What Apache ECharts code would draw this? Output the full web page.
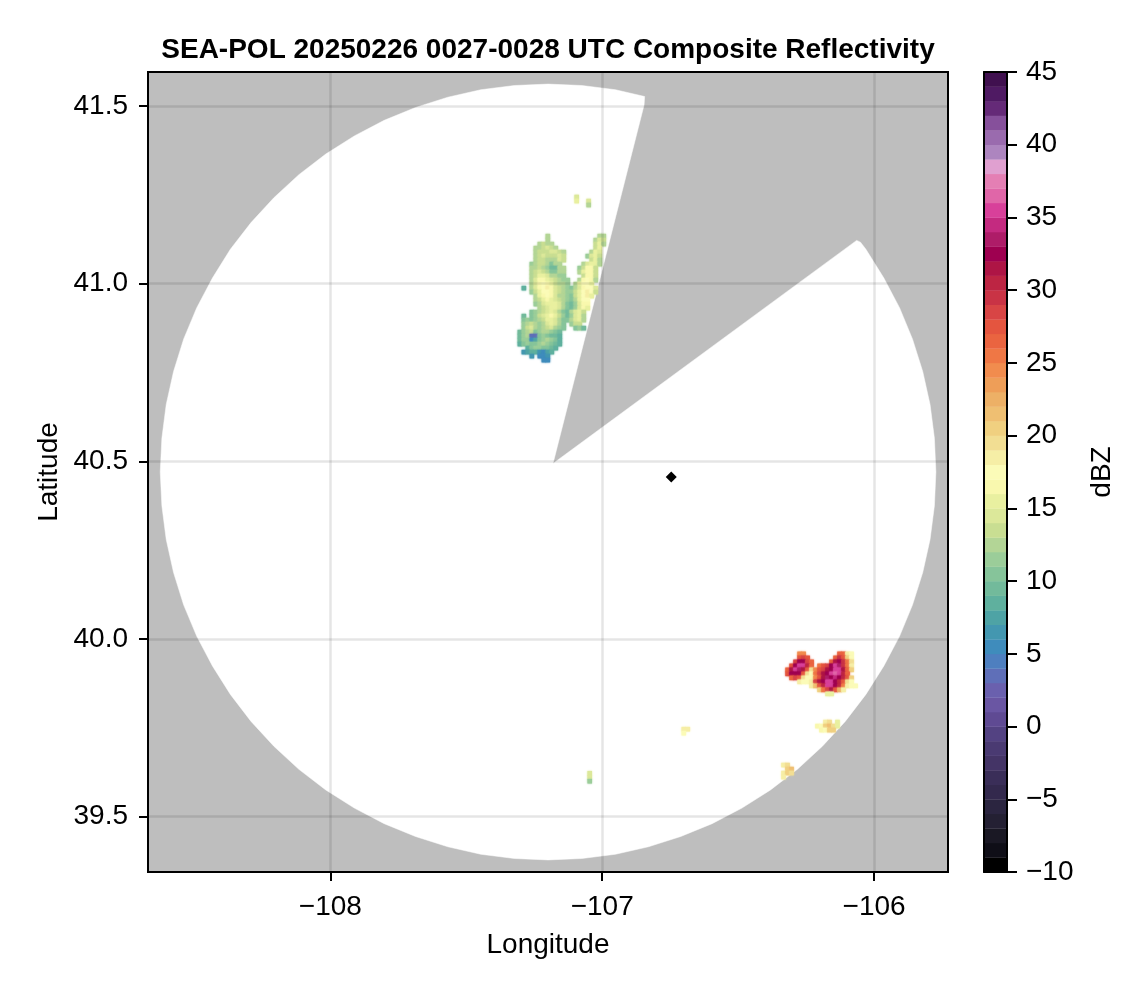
<!DOCTYPE html>
<html><head><meta charset="utf-8">
<style>html,body{margin:0;padding:0;background:#fff}#c{width:1146px;height:990px}</style>
<script src="https://cdn.jsdelivr.net/npm/echarts@6/dist/echarts.min.js"></script>
</head><body><div id="c"></div>
<script>
const titleText = 'SEA-POL 20250226 0027-0028 UTC Composite Reflectivity';
const lonTicks = [-108, -107, -106];
const latTicks = [39.5, 40, 40.5, 41, 41.5];
const lonRange = [-108.671, -105.728];
const latRange = [39.344, 41.596];
const dbzRange = [-10, 45];
// one colour per 1 dBZ bin, from -10 up to 45
const binColors = ['#000000','#0f0e17','#1a1824','#242033','#2b2540','#33294d','#3a2e58','#443466','#4a3a72','#534282',
 '#5f4a93','#6a56a3','#6a60ae','#5f6fb8','#4e7fbf','#3f8cbc','#4397b0','#4ea3a5','#5fb09e','#72ba9b',
 '#86c49a','#9bcd99','#b3d596','#c9de92','#dce89a','#e9f0a0','#f9f8ae','#fbfbb8','#f6eea6','#f2de93',
 '#f0d080','#efbf72','#edb066','#ee9e58','#f18c4e','#ef7745','#ea6440','#e4553f','#d84545','#c93345',
 '#bd2543','#ae1545','#9e0050','#ae1c68','#c42a80','#d8409a','#e066a8','#e47fb4','#e0a0d0','#ad85bf',
 '#9a6bae','#86509b','#652a78','#4f1a63','#40104f'];
// radar coverage outline [lon, lat]
const coverage = [[-107.181,40.494],[-106.064,41.122],[-106.050,41.117],[-106.030,41.097],[-105.964,41.016],[-105.906,40.932],[-105.8585,40.844],[-105.821,40.753],[-105.794,40.660],[-105.778,40.565],
 [-105.7725,40.470],[-105.778,40.375],[-105.794,40.280],[-105.821,40.187],[-105.8585,40.096],[-105.906,40.008],[-105.964,39.924],[-106.030,39.844],[-106.106,39.768],[-106.190,39.698],[-106.282,39.633],[-106.381,39.575],[-106.486,39.524],[-106.596,39.480],
 [-106.711,39.444],[-106.830,39.415],[-106.951,39.394],[-107.075,39.382],[-107.199,39.378],[-107.323,39.382],[-107.447,39.394],[-107.568,39.415],[-107.687,39.444],[-107.802,39.480],[-107.912,39.524],[-108.017,39.575],[-108.116,39.633],[-108.208,39.698],
 [-108.292,39.768],[-108.368,39.844],[-108.434,39.924],[-108.492,40.008],[-108.540,40.096],[-108.577,40.187],[-108.604,40.280],[-108.620,40.375],[-108.626,40.470],[-108.620,40.565],[-108.604,40.660],[-108.577,40.753],[-108.540,40.844],[-108.492,40.932],
 [-108.434,41.016],[-108.368,41.097],[-108.292,41.172],[-108.208,41.242],[-108.116,41.307],[-108.017,41.365],[-107.912,41.416],[-107.802,41.460],[-107.687,41.496],[-107.568,41.525],[-107.447,41.546],[-107.323,41.558],[-107.199,41.562],[-107.075,41.558],
 [-106.951,41.546],[-106.844,41.527],[-106.846,41.503]];
const radarSite = [[-106.746, 40.456]];
// echo cells: [row, first column, values in dBZ]
const northOrigin = [-107.303, 41.134];
const northEcho = [
 [0,7,[12]],[0,20,[12,12]],
 [1,7,[12]],[1,19,[12,14,13]],
 [2,5,[12,13,12,12]],[2,19,[13,15,12]],
 [3,4,[12,12,13,14,13,12]],[3,19,[13,15]],
 [4,4,[12,13,13,13,14,14,13,12]],[4,18,[12,15,14]],
 [5,4,[12,13,14,13,13,13,14,13]],[5,17,[11,14,15,13]],
 [6,4,[12,13,13,12,12,12,14,13]],[6,18,[13,15,12]],
 [7,3,[11,12,13,13,12,10,12,12]],[7,16,[12,14,15,15,12]],
 [8,3,[12,12,13,12,11,9,9,12,12]],[8,15,[11,13,16,16,13]],
 [9,3,[12,13,14,13,12,10,10,12,12]],[9,15,[12,15,16,16,13]],
 [10,3,[12,13,15,15,14,12,12,11,11]],[10,16,[13,16,16,13]],
 [11,3,[12,14,16,16,15,14,13,12,11,11]],[11,15,[12,16,17,16,12]],
 [12,3,[12,14,16,17,16,15,13,12,12,11]],[12,14,[12,15,17,17,15]],
 [13,1,[8]],[13,3,[12,14,16,17,18,16,14,13,12,11,10,12,14,16,17,17,14]],
 [14,3,[11,13,15,17,17,16,14,13,12,11,11,13,15,17,18,17,13]],
 [15,4,[12,15,16,17,16,14,12,12,11,10,13,15,17,18,15]],
 [16,4,[12,13,15,16,15,14,13,12,11,10,12,15,17,17]],
 [17,4,[11,12,14,15,15,15,14,12,10,9,11,14,16,16]],
 [18,5,[12,13,14,15,15,14,12,10,9,11,14,16,15]],
 [19,3,[10,11,12,13,14,15,14,12,10,9,12,14,15,13]],
 [20,1,[9,0,10,11,13,14,15,16,15,13,11,9,11,14,15,12]],
 [21,1,[10,11,10,11,12,13,15,15,14,12,10,10,12,14,15,12]],
 [22,1,[11,12,13,12,11,12,14,15,14,12,10]],[22,13,[11,13,13]],
 [23,1,[11,13,14,12,11,12,13,14,12,11,10]],[23,14,[10,11,9]],
 [24,0,[9,11,12,13,10,11,12,12,11,10,9]],
 [25,0,[9,11,12,3,3,10,11,10,9,9,8]],
 [26,0,[9,11,11,5,7,10,11,12,11,10,8]],
 [27,0,[8,10,11,10,10,11,12,11,10,9,8]],
 [28,2,[8,10,11,11,10,10,9,8]],
 [29,1,[6,7,8,8,6,5,7,8]],
 [30,3,[6]],[30,5,[5,5,6]],
 [31,6,[5,5]]
];
const southOrigin = [-106.318, 39.958];
const southEcho = [
 [0,3,[24,24]],[0,13,[26,26]],[0,15,[18,17]],
 [1,3,[27,28,27]],[1,12,[26,29,27,20,17]],
 [2,2,[28,32,32,28,26]],[2,11,[26,31,32,29,25,19]],
 [3,1,[27,32,35,35,30,26]],[3,8,[25,27,28,32,35,33,29,25,18]],
 [4,0,[26,31,35,33,31,27,19]],[4,7,[24,27,28,31,32,35,35,31,26,20]],
 [5,0,[27,32,32,32,27,19,17]],[5,7,[25,28,31,32,35,36,35,30,26]],
 [6,1,[26,28,27,19,17,17]],[6,7,[24,27,31,33,32,34,32,30,27,20]],
 [7,3,[18,17,17,18,28,31,32,35,35,32,30,27,19,17]],
 [8,6,[18,21,27,30,35,35,32,30,25,18,17,17]],
 [9,8,[20,25,28,31,27,22,18]],
 [10,10,[15,15]]
];
const patchAOrigin = [-106.208, 39.766];
const patchA = [[0,2,[18,19]],[0,5,[15]],[1,0,[16,17,20,21,19,15]],[2,1,[16,17,20,20]]];
const patchBOrigin = [-106.333, 39.645];
const patchB = [[0,0,[18,19]],[1,1,[20,21]],[2,0,[18,20,19]],[3,0,[18]]];
const patchCOrigin = [-106.700, 39.746];
const patchC = [[0,0,[18,18]],[1,0,[17]]];
const patchDOrigin = [-107.046, 39.622];
const patchD = [[0,0,[14]],[1,0,[14]],[2,0,[11]]];
const patchEOrigin = [-107.094, 41.244];
const patchE = [[0,0,[14]],[1,0,[15]],[1,3,[14]],[2,3,[12]]];
const lonStep = 0.0147, latStep = 0.01126;

function expand(origin, rows){
  const out=[];
  rows.forEach(([r,c,vals])=>vals.forEach((v,i)=>{
    if(v) out.push([+(origin[0]+(c+i)*lonStep).toFixed(4), +(origin[1]-r*latStep).toFixed(4), v]);
  }));
  return out;
}
const colorOf=v=>binColors[Math.floor(v-dbzRange[0])];
const echoCells = [].concat(
  expand(northOrigin,northEcho), expand(southOrigin,southEcho), expand(patchAOrigin,patchA),
  expand(patchBOrigin,patchB), expand(patchCOrigin,patchC), expand(patchDOrigin,patchD), expand(patchEOrigin,patchE))
  .map(d=>({value:d,itemStyle:{color:colorOf(d[2]),opacity:1,shadowBlur:2,shadowColor:colorOf(d[2])}}));
const binData = binColors.map((c,i)=>[dbzRange[0]+i, dbzRange[0]+i+1]);

const FONT='"Liberation Sans", Arial, sans-serif';
const minus=s=>String(s).replace('-','\u2212');
const labelBase={fontFamily:FONT,fontSize:28,color:'#000'};
const axisBlack={lineStyle:{color:'#000',width:2}};
const grid='rgba(0,0,0,0.1)';
const line={show:true,onZero:false,...axisBlack};

const chart=echarts.init(document.getElementById('c'),null,{renderer:'canvas'});
chart.setOption({
  animation:false,
  backgroundColor:'#fff',
  title:{text:titleText,left:543,top:31,textAlign:'center',
    textStyle:{fontFamily:FONT,fontWeight:'bold',fontSize:28,color:'#000'}},
  grid:[
    {left:148,top:72,width:800,height:800,show:true,backgroundColor:'#bebebe',borderColor:'#000',borderWidth:2},
    {left:984,top:72,width:23,height:800,show:false}
  ],
  xAxis:[
    {type:'value',gridIndex:0,min:lonRange[0],max:lonRange[1],z:5,
     name:'Longitude',nameLocation:'middle',nameGap:59,nameMoveOverlap:false,nameTextStyle:labelBase,
     axisLine:line,
     axisTick:{show:true,length:9,customValues:lonTicks,...axisBlack},
     axisLabel:{...labelBase,margin:21,customValues:lonTicks,formatter:v=>minus(v)},
     splitLine:{show:true,lineStyle:{color:grid,width:2.5}}},
    {type:'value',gridIndex:1,min:0,max:1,position:'bottom',z:5,axisLine:line,axisTick:{show:false},axisLabel:{show:false},splitLine:{show:false}},
    {type:'value',gridIndex:1,min:0,max:1,position:'top',z:5,axisLine:line,axisTick:{show:false},axisLabel:{show:false},splitLine:{show:false}}
  ],
  yAxis:[
    {type:'value',gridIndex:0,min:latRange[0],max:latRange[1],z:5,
     name:'Latitude',nameLocation:'middle',nameGap:85,nameMoveOverlap:false,nameRotate:90,nameTextStyle:labelBase,
     axisLine:line,
     axisTick:{show:true,length:9,customValues:latTicks,...axisBlack},
     axisLabel:{...labelBase,margin:20,padding:[4,0,0,0],customValues:latTicks,formatter:v=>v.toFixed(1)},
     splitLine:{show:true,lineStyle:{color:grid,width:2.5}}},
    {type:'value',gridIndex:1,min:dbzRange[0],max:dbzRange[1],interval:5,position:'right',z:5,
     name:'dBZ',nameLocation:'middle',nameGap:81,nameMoveOverlap:false,nameRotate:90,nameTextStyle:labelBase,
     axisLine:line,axisTick:{show:true,length:10,...axisBlack},
     axisLabel:{...labelBase,margin:19,padding:[4,0,0,0],formatter:v=>minus(v)},splitLine:{show:false}},
    {type:'value',gridIndex:1,min:dbzRange[0],max:dbzRange[1],position:'left',z:5,
     axisLine:line,axisTick:{show:false},axisLabel:{show:false},splitLine:{show:false}}
  ],
  series:[
    {type:'custom',xAxisIndex:0,yAxisIndex:0,data:coverage,z:1,silent:true,
     renderItem:(p,api)=>{
       if(p.dataIndex!==0) return null;
       const pts=coverage.map(d=>api.coord(d));
       return {type:'polygon',shape:{points:pts},style:{fill:'#fff',stroke:'#fff',lineWidth:0.5}};
     }},
    {type:'scatter',xAxisIndex:0,yAxisIndex:0,data:echoCells,z:2,symbol:'rect',symbolSize:4.6,silent:true},
    {type:'scatter',xAxisIndex:0,yAxisIndex:0,data:radarSite,z:3,symbol:'diamond',symbolSize:11,silent:true,
     itemStyle:{color:'#000',opacity:1}},
    {type:'custom',xAxisIndex:1,yAxisIndex:1,data:binData,z:1,silent:true,
     encode:{y:[0,1]},
     renderItem:(p,api)=>{
       const a=api.coord([0,api.value(0)]), b=api.coord([1,api.value(1)]);
       return {type:'rect',shape:{x:a[0],y:b[1],width:b[0]-a[0],height:a[1]-b[1]+0.3},
         style:{fill:binColors[p.dataIndex]}};
     }}
  ]
});
</script></body></html>
